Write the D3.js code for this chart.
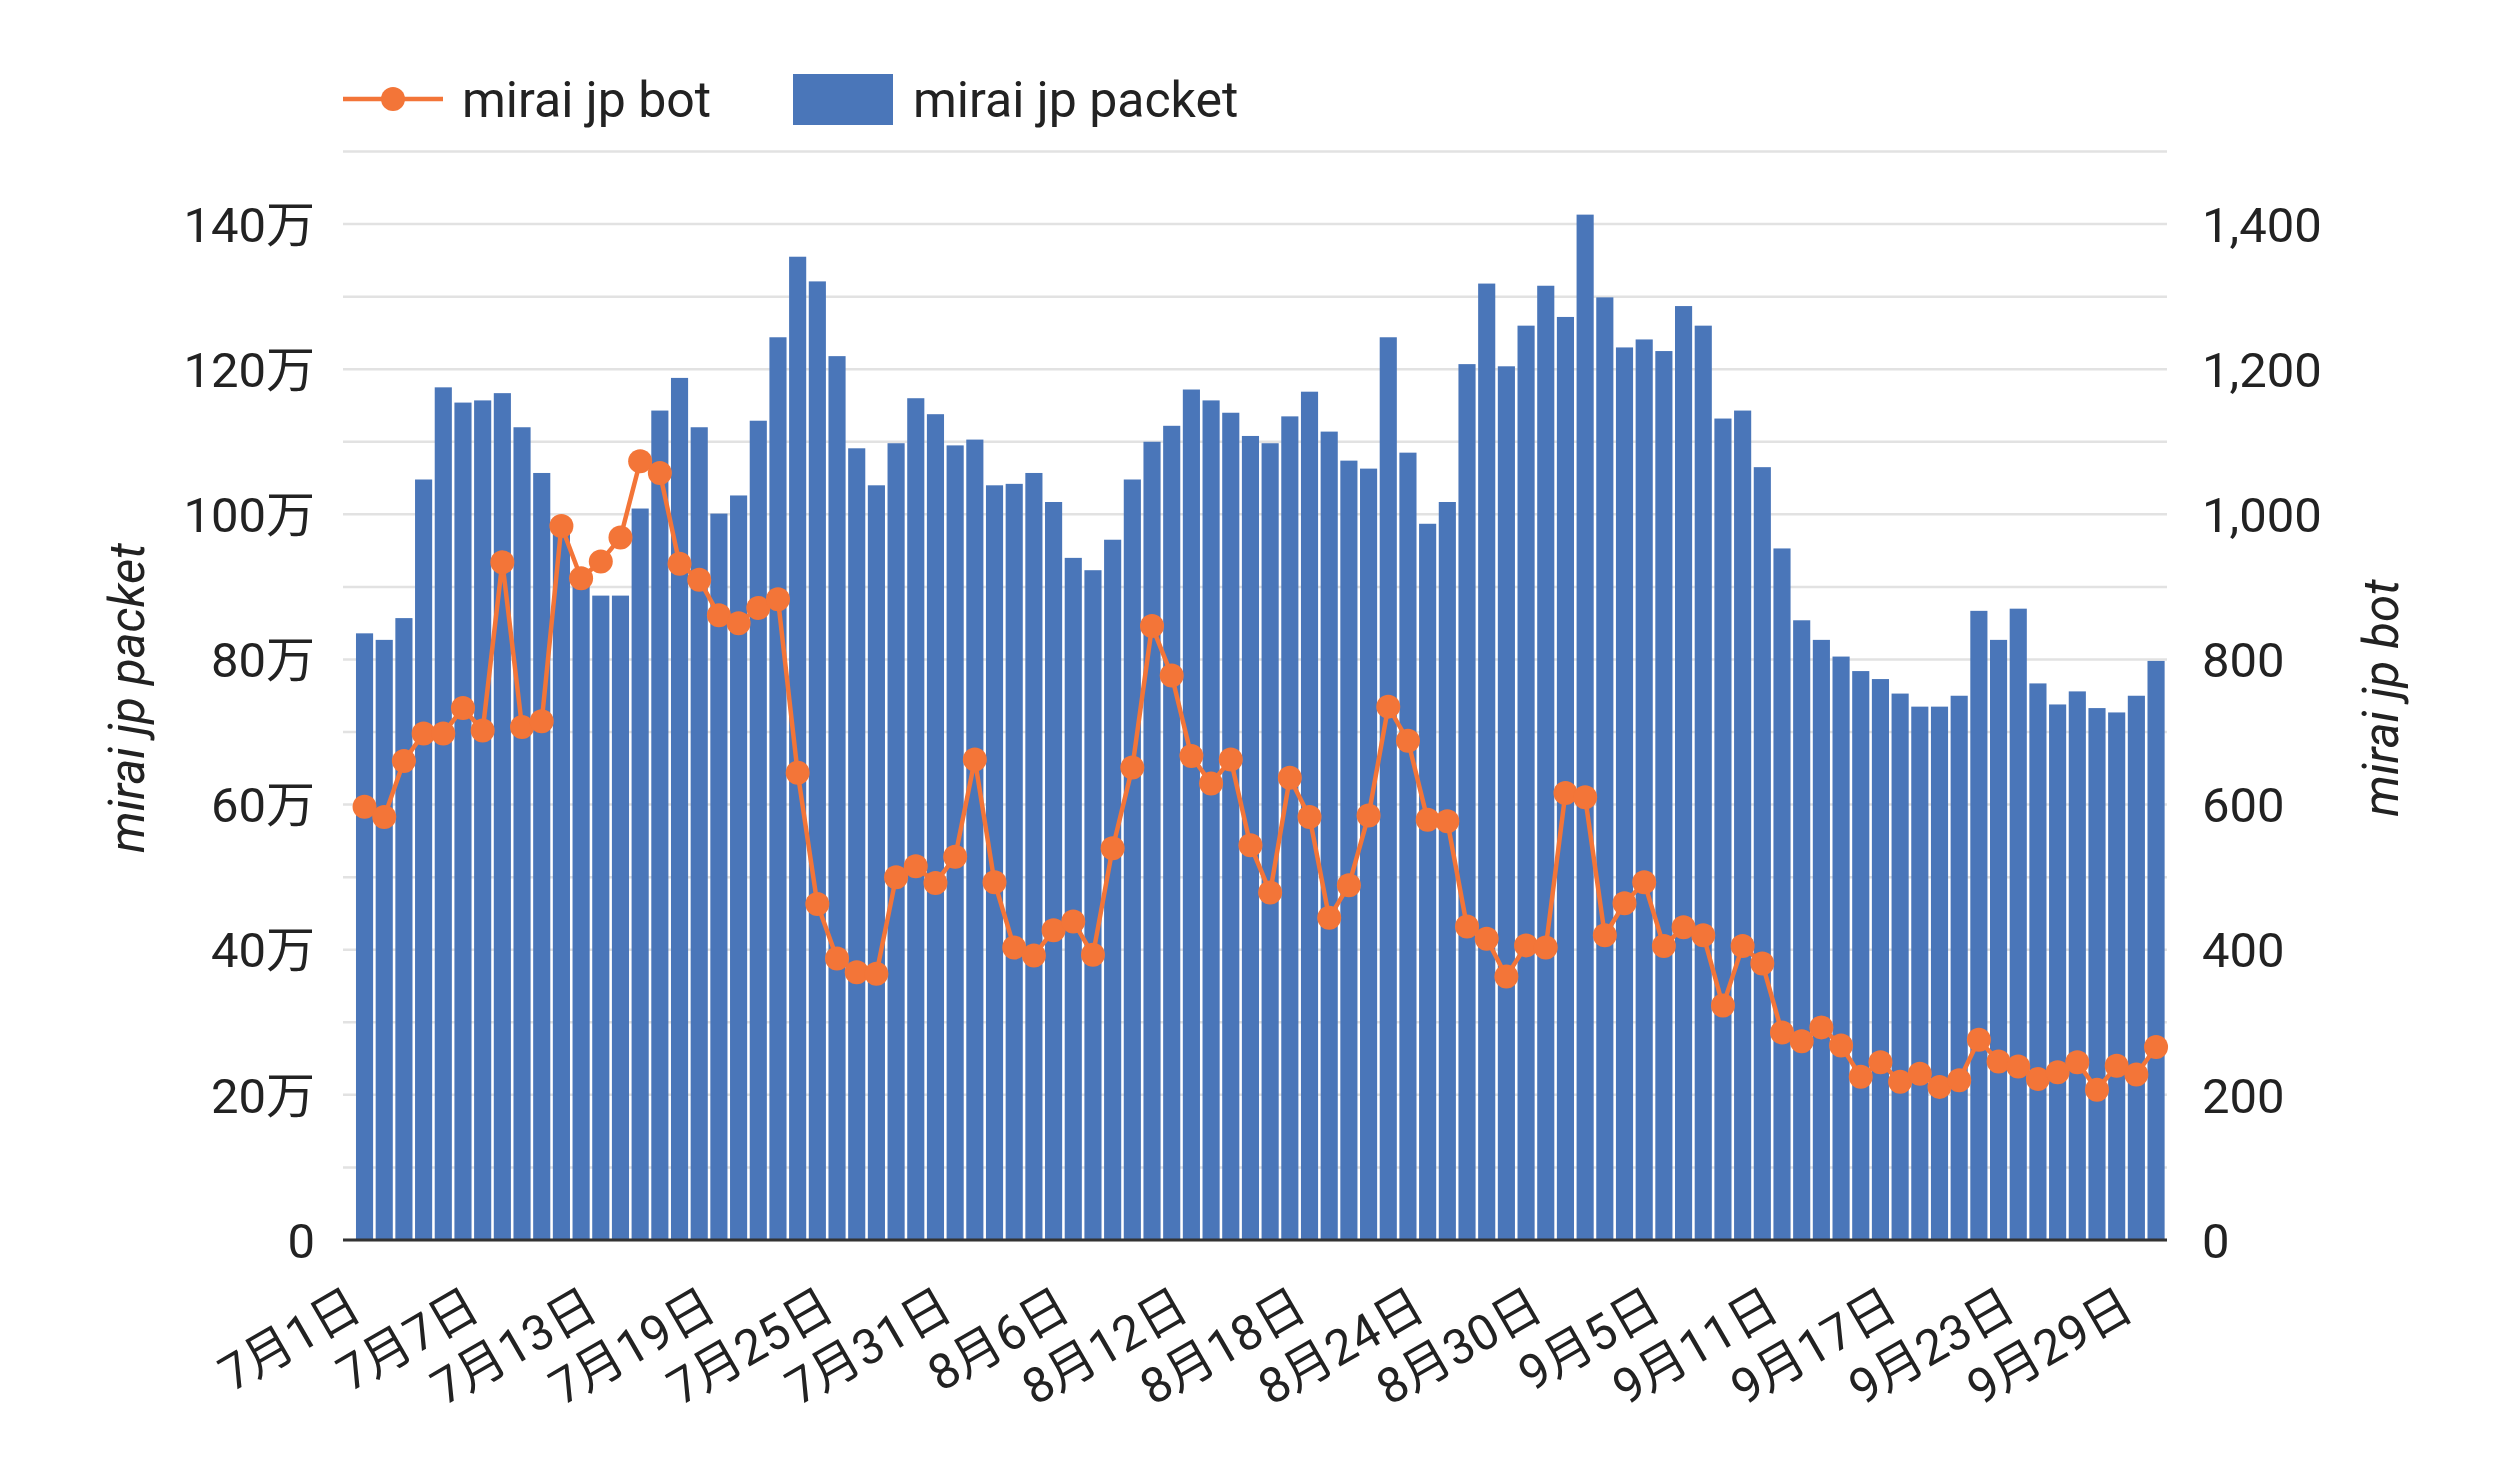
<!DOCTYPE html>
<html>
<head>
<meta charset="utf-8">
<script src="https://cdn.jsdelivr.net/npm/d3@7"></script>
<style>
  body { margin: 0; background: #fff; }
  text { font-family: Roboto, "Noto Sans CJK JP", sans-serif; fill: #222; }
</style>
</head>
<body>
<div id="chart"></div>
<script>
// month / day categories (Jul 1 - Sep 30)
const months = [7, 8, 9];
const monthDays = [31, 31, 30];

// mirai jp packet, in units of 万 (10,000)
const packetMan = [
  83.6, 82.7, 85.7, 104.8, 117.5, 115.4, 115.7, 116.7, 112.0, 105.7,
  98.0, 90.2, 88.8, 88.8, 100.8, 114.3, 118.8, 112.0, 100.1, 102.6,
  112.9, 124.4, 135.5, 132.1, 121.8, 109.1, 104.0, 109.8, 116.0, 113.8,
  109.5, 110.3, 104.0, 104.2, 105.7, 101.7, 94.0, 92.3, 96.5, 104.8,
  110.0, 112.2, 117.2, 115.7, 114.0, 110.8, 109.8, 113.5, 116.9, 111.4,
  107.4, 106.3, 124.4, 108.5, 98.7, 101.7, 120.7, 131.8, 120.4, 126.0,
  131.5, 127.2, 141.3, 129.9, 123.0, 124.1, 122.5, 128.7, 126.0, 113.2,
  114.3, 106.5, 95.3, 85.4, 82.7, 80.4, 78.4, 77.3, 75.3, 73.5,
  73.5, 75.0, 86.7, 82.7, 87.0, 76.7, 73.8, 75.6, 73.3, 72.7,
  75.0, 79.8
];

// mirai jp bot
const botCount = [
  597, 583, 660, 698, 698, 733, 702, 934, 707, 715,
  984, 912, 935, 968, 1073, 1057, 932, 910, 861, 850,
  871, 883, 644, 463, 388, 369, 367, 500, 515, 492,
  528, 662, 493, 403, 392, 427, 439, 393, 540, 651,
  846, 778, 667, 629, 662, 544, 479, 637, 583, 444,
  489, 585, 735, 688, 579, 577, 432, 415, 363, 406,
  403, 616, 610, 420, 464, 493, 405, 431, 420, 323,
  405, 381, 286, 274, 293, 268, 225, 245, 218, 229,
  211, 220, 276, 246, 239, 222, 231, 245, 207, 240,
  228, 266
];

const leftTicks = [0, 200000, 400000, 600000, 800000, 1000000, 1200000, 1400000];
const rightTicks = [0, 200, 400, 600, 800, 1000, 1200, 1400];
const gridValues = d3.range(0, 1500001, 100000);

// build category labels like 7月1日
const dates = [];
months.forEach((m, i) => {
  for (let d = 1; d <= monthDays[i]; d++) dates.push(m + "月" + d + "日");
});
const tickLabels = dates.filter((d, i) => i % 6 === 0);

const data = dates.map((d, i) => ({ date: d, packet: packetMan[i] * 10000, bot: botCount[i] }));

const width = 2500, height = 1459;
const plotLeft = 343, plotRight = 2167, plotTop = 151.5, plotBottom = 1240;
const fontSize = 49;
const legendFont = 50;
const barColor = "#4a76b9";
const lineColor = "#f37538";

const svg = d3.select("#chart").append("svg")
  .attr("width", width)
  .attr("height", height);

const x = d3.scaleBand()
  .domain(dates)
  .range([354.7, 2165.9])
  .paddingInner(0.13)
  .paddingOuter(0.065);

const yLeft = d3.scaleLinear().domain([0, 1500000]).range([plotBottom, plotTop]);
const yRight = d3.scaleLinear().domain([0, 1500]).range([plotBottom, plotTop]);

// gridlines
svg.append("g")
  .selectAll("line")
  .data(gridValues)
  .enter().append("line")
  .attr("x1", plotLeft)
  .attr("x2", plotRight)
  .attr("y1", d => yLeft(d))
  .attr("y2", d => yLeft(d))
  .attr("stroke", "#e2e2e2")
  .attr("stroke-width", 2.5);

// bars
svg.append("g")
  .selectAll("rect")
  .data(data)
  .enter().append("rect")
  .attr("x", d => x(d.date))
  .attr("y", d => yLeft(d.packet))
  .attr("width", x.bandwidth())
  .attr("height", d => plotBottom - yLeft(d.packet))
  .attr("fill", barColor);

// baseline
svg.append("line")
  .attr("x1", plotLeft).attr("x2", plotRight)
  .attr("y1", plotBottom).attr("y2", plotBottom)
  .attr("stroke", "#333")
  .attr("stroke-width", 3);

// bot line + markers
const cx = d => x(d.date) + x.bandwidth() / 2;
svg.append("path")
  .datum(data)
  .attr("fill", "none")
  .attr("stroke", lineColor)
  .attr("stroke-width", 4.5)
  .attr("d", d3.line().x(cx).y(d => yRight(d.bot)));

svg.append("g")
  .selectAll("circle")
  .data(data)
  .enter().append("circle")
  .attr("cx", cx)
  .attr("cy", d => yRight(d.bot))
  .attr("r", 12)
  .attr("fill", lineColor);

// left axis labels
const fmtMan = v => v === 0 ? "0" : (v / 10000) + "万";
svg.append("g")
  .selectAll("text")
  .data(leftTicks)
  .enter().append("text")
  .attr("x", 315)
  .attr("y", d => yLeft(d))
  .attr("dy", "0.36em")
  .attr("text-anchor", "end")
  .style("font-size", fontSize + "px")
  .text(fmtMan);

// right axis labels
svg.append("g")
  .selectAll("text")
  .data(rightTicks)
  .enter().append("text")
  .attr("x", 2202)
  .attr("y", d => yRight(d))
  .attr("dy", "0.36em")
  .attr("text-anchor", "start")
  .style("font-size", fontSize + "px")
  .text(d3.format(","));

// x axis labels, slanted
svg.append("g")
  .selectAll("text")
  .data(tickLabels)
  .enter().append("text")
  .attr("transform", d => `translate(${x(d) + x.bandwidth() / 2},1316) rotate(-30)`)
  .attr("text-anchor", "end")
  .style("font-size", fontSize + "px")
  .text(d => d);

// axis titles
svg.append("text")
  .attr("transform", "translate(126,698) rotate(-90)")
  .attr("text-anchor", "middle")
  .attr("dy", "0.36em")
  .style("font-size", fontSize + "px")
  .style("font-style", "italic")
  .text("mirai jp packet");

svg.append("text")
  .attr("transform", "translate(2380,698) rotate(-90)")
  .attr("text-anchor", "middle")
  .attr("dy", "0.36em")
  .style("font-size", fontSize + "px")
  .style("font-style", "italic")
  .text("mirai jp bot");

// legend
const legend = svg.append("g");
legend.append("line")
  .attr("x1", 343).attr("x2", 443)
  .attr("y1", 99).attr("y2", 99)
  .attr("stroke", lineColor)
  .attr("stroke-width", 4.5);
legend.append("circle")
  .attr("cx", 393).attr("cy", 99).attr("r", 12)
  .attr("fill", lineColor);
legend.append("text")
  .attr("x", 462).attr("y", 99).attr("dy", "0.36em")
  .style("font-size", legendFont + "px")
  .text("mirai jp bot");
legend.append("rect")
  .attr("x", 793).attr("y", 74)
  .attr("width", 100).attr("height", 51)
  .attr("fill", barColor);
legend.append("text")
  .attr("x", 913).attr("y", 99).attr("dy", "0.36em")
  .style("font-size", legendFont + "px")
  .text("mirai jp packet");
</script>
</body>
</html>
